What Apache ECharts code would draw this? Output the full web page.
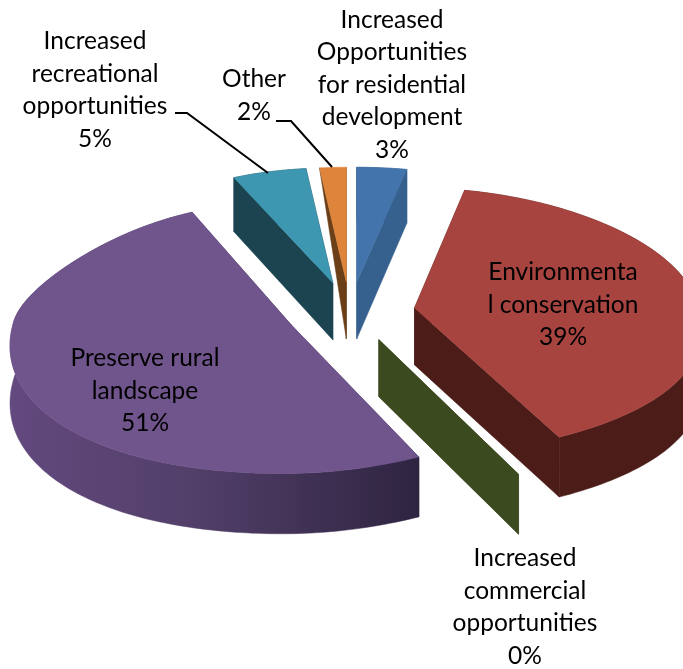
<!DOCTYPE html>
<html><head><meta charset="utf-8">
<style>html,body{margin:0;padding:0;background:#fff}#c{width:683px;height:669px}</style>
<script src="https://cdn.jsdelivr.net/npm/echarts@6/dist/echarts.min.js"></script>
</head><body><div id="c"></div>
<script>
// Data, clockwise from 12 o'clock (estimated unrounded shares; labels show them rounded)
const categories = ['Increased\nOpportunities\nfor residential\ndevelopment','Environmenta\nl conservation','Increased\ncommercial\nopportunities','Preserve rural\nlandscape','Increased\nrecreational\nopportunities','Other'];
const values = [3.3, 39.4, 0, 50.6, 4.9, 1.8];

// Styles
const topColors = ['#4374AB','#A8443F','#3C4A20','#70548C','#3E97B1','#DE853B'];
const sideColors = ['#36618F','#4B1C18','#3C4A20','#2E2440','#1B4450','#6B3F17'];
// Layout of the labels
const labelCenters = [[392,85],[563,305],[525,607],[145,391],[95,90],[254,95.5]];
const leaders = [null,null,null,null,[[175,113],[187,113],[268,173]],[[276,121],[291,121],[332,167]]];

const cx=350, cy=311.7, R=284, EXPLODE=65, D=2102, DEPTH=57, BULGE=0.03;
const total = values.reduce((a,b)=>a+b,0);
const pct = values.map(v=>Math.round(v/total*100)+'%');
const starts=[]; values.reduce((a,v,i)=>(starts[i]=a,a+v),0);
const toAng = p => p/total*2*Math.PI;

function pt(phi,r0,ax,ay,drop){
  const sinP=Math.sin(phi), cosP=Math.cos(phi), sin2=Math.pow(Math.sin(2*phi),2);
  const r=r0*(1+(sinP<0&&cosP<0?BULGE*sin2:0));
  let Yr=-r*cosP, Xr=r*sinP;
  if(sinP<0){ Xr*=0.98; if(cosP>0) Yr*=1-0.25*Math.pow(sinP,4); }
  else if(cosP<0) Xr*=1+0.03*sin2;
  const Y=ay+Yr;
  const s=Yr>0?D/(D-Yr):1;
  const sp=1+0.000369*Yr-5.24e-7*Yr*Yr;
  const h=drop?DEPTH*(1+Yr*0.0002):0;
  return [cx+ax*s+Xr*sp, cy+0.4697*Y+0.000159*Y*Y+h];
}
function renderItem(params,api){
  const i=api.value(0), v=api.value(1);
  const a0=toAng(starts[i]), a1=toAng(starts[i]+v), mid=(a0+a1)/2;
  const ax=EXPLODE*Math.sin(mid), ay=-EXPLODE*Math.cos(mid);
  const side=i===3?new echarts.graphic.LinearGradient(0,0,1,0,[{offset:0,color:'#63497E'},{offset:0.45,color:'#523F69'},{offset:1,color:sideColors[3]}]):sideColors[i];
  const poly=(points,fill)=>({type:'polygon',shape:{points},style:{fill,stroke:fill,lineWidth:0.5},silent:true});
  const n=Math.max(2,Math.ceil((a1-a0)/0.02));
  const top=[],bot=[];
  for(let j=0;j<=n;j++){const p=a0+(a1-a0)*j/n;top.push(pt(p,R,ax,ay,false));bot.push(pt(p,R,ax,ay,true));}
  const at=pt(0,0,ax,ay,false), ab=pt(0,0,ax,ay,true);
  const children=[];
  const narrow=v<2.5&&v>0;
  children.push(poly([at,top[0],narrow?top[0]:bot[0],ab],side));
  children.push(poly([at,top[n],narrow?top[n]:bot[n],ab],side));
  if(v>0){
    if(!narrow) children.push(poly(top.concat(bot.slice().reverse()),side));
    children.push(poly([at].concat(top),topColors[i]));
  }
  if(leaders[i]) children.push({type:'polyline',shape:{points:leaders[i]},style:{stroke:'#000',lineWidth:2,fill:null},silent:true});
  children.push({type:'text',silent:true,z2:100,style:{text:categories[i]+'\n'+pct[i],x:labelCenters[i][0],y:labelCenters[i][1],align:'center',verticalAlign:'middle',fontFamily:'Lato',fontSize:24.5,lineHeight:32.5,fill:'#000'}});
  return {type:'group',children};
}
// Painter's order: back slices first
const order=[4,5,0,2,1,3];
const chart=echarts.init(document.getElementById('c'),null,{renderer:'canvas'});
chart.setOption({animation:false,backgroundColor:'#fff',
  series:[{type:'custom',coordinateSystem:'none',renderItem,clip:false,data:order.map(i=>[i,values[i]])}]});
</script></body></html>
